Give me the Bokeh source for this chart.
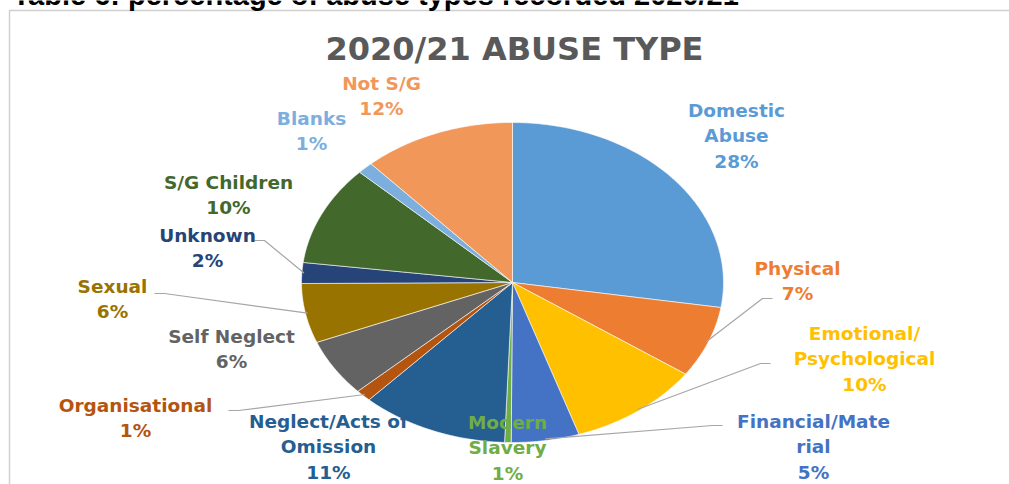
import numpy as np
from bokeh.plotting import figure
from bokeh.models import Range1d, ColumnDataSource
from bokeh.core.properties import value
from bokeh.embed import file_html
from bokeh.resources import INLINE

# ---- data ----
categories = ["Domestic Abuse", "Physical", "Emotional/Psychological", "Financial/Material",
              "Modern Slavery", "Neglect/Acts of Omission", "Organisational", "Self Neglect",
              "Sexual", "Unknown", "S/G Children", "Blanks", "Not S/G"]
shares = [27.5, 7.2, 10.2, 5.2, 0.5, 11.3, 1.2, 5.8, 6.0, 2.1, 10.1, 1.2, 11.7]
pct_labels = ["28%", "7%", "10%", "5%", "1%", "11%", "1%", "6%", "6%", "2%", "10%", "1%", "12%"]
label_names = [["Domestic", "Abuse"], ["Physical"], ["Emotional/", "Psychological"],
               ["Financial/Mate", "rial"], ["Modern", "Slavery"], ["Neglect/Acts of", "Omission"],
               ["Organisational"], ["Self Neglect"], ["Sexual"], ["Unknown"], ["S/G Children"],
               ["Blanks"], ["Not S/G"]]
colors = ["#5B9BD5", "#ED7D31", "#FFC000", "#4472C4", "#70AD47", "#255E91", "#B4550F",
          "#636363", "#997300", "#264478", "#43682B", "#7CAFDD", "#F1975A"]
label_colors = ["#5B9BD5", "#ED7D31", "#FFC000", "#4472C4", "#70AD47", "#255E91", "#B4550F",
                "#636363", "#997300", "#264478", "#43682B", "#7CAFDD", "#F1975A"]

# ---- layout ----
W, H = 1009, 484
cx, cy, rx, ry = 512, 282, 211, 160
label_pos = [(736, 110), (797, 268), (864, 333), (813, 421), (507, 422), (328, 421),
             (135, 405), (231, 336), (112, 286), (207, 235), (228, 182), (311, 118), (381, 83)]
line_gap = 25.3
leader = {1: (772, 298), 2: (770, 363), 3: (722, 425), 6: (228, 410), 8: (154, 293), 9: (254, 240)}

p = figure(width=W, height=H, x_range=Range1d(0, W), y_range=Range1d(H, 0),
           output_backend="svg", toolbar_location=None, min_border=0)
p.axis.visible = False
p.grid.visible = False
p.outline_line_color = None
p.background_fill_color = "white"
p.border_fill_color = "white"

# chart frame
p.quad(left=[9], right=[1020], top=[10], bottom=[500], fill_color="white",
       line_color="#D0D0D0", line_width=1.5)

# header text (partially cut off at top)
p.text(x=[12], y=[-6], text=["Table 6: percentage of abuse types recorded 2020/21"],
       text_font=value("Liberation Sans"), text_font_style="bold", text_font_size="29px",
       text_color="black", text_align="left", text_baseline="alphabetic")

# title
p.text(x=[514], y=[48], text=["2020/21 ABUSE TYPE"], text_font=value("DejaVu Sans"),
       text_font_style="bold", text_font_size="32px", text_color="#595959",
       text_align="center", text_baseline="middle")

# pie slices as elliptical wedges
vals = np.array(shares, dtype=float)
frac = vals / vals.sum()
ends = np.cumsum(frac)
starts = ends - frac
xs, ys = [], []
for s, e in zip(starts, ends):
    n = max(4, int((e - s) * 400))
    th = np.linspace(s, e, n) * 2 * np.pi
    xs.append([cx] + list(cx + rx * np.sin(th)))
    ys.append([cy] + list(cy - ry * np.cos(th)))
p.patches(xs=xs, ys=ys, fill_color=colors, line_color="white", line_width=0.6)

# leader lines
lx, ly = [], []
for i, (px, py) in leader.items():
    mid = (starts[i] + ends[i]) / 2 * 2 * np.pi
    ex, ey = cx + 0.99 * rx * np.sin(mid), cy - 0.99 * ry * np.cos(mid)
    step = 10 if px > cx else -10
    lx.append([px, px - step, ex])
    ly.append([py, py, ey])
p.multi_line(xs=lx, ys=ly, line_color="#A6A6A6", line_width=1.2)

# labels, one row per text line
tx, ty, tt, tc = [], [], [], []
for (x0, y0), names, pc, col in zip(label_pos, label_names, pct_labels, label_colors):
    for k, line in enumerate(names + [pc]):
        tx.append(x0)
        ty.append(y0 + k * line_gap)
        tt.append(line)
        tc.append(col)
src = ColumnDataSource(dict(x=tx, y=ty, t=tt, c=tc))
p.text(x="x", y="y", text="t", source=src, text_color="c", text_font=value("DejaVu Sans"),
       text_font_style="bold", text_font_size="18.5px", text_align="center",
       text_baseline="middle")

open("out.html", "w").write(file_html(p, INLINE))
